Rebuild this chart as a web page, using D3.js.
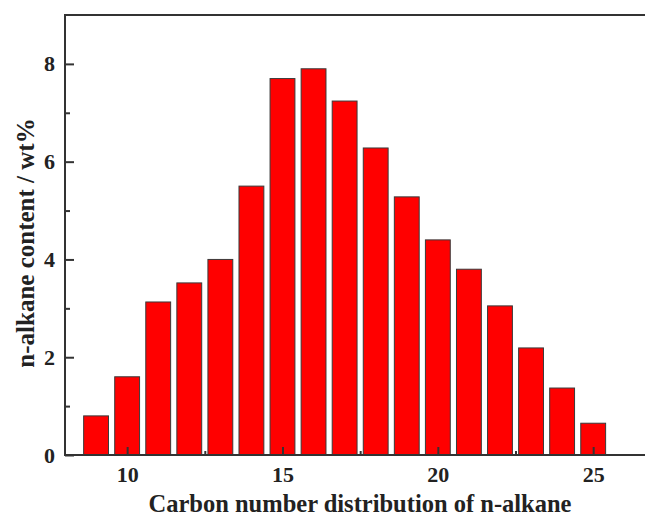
<!DOCTYPE html>
<html>
<head>
<meta charset="utf-8">
<script src="https://cdn.jsdelivr.net/npm/d3@7"></script>
<style>
  html, body { margin: 0; padding: 0; background: #fff; }
  svg { display: block; font-family: "Liberation Serif", "Times New Roman", serif; font-weight: bold; }
</style>
</head>
<body>
<svg id="chart" width="645" height="516"></svg>
<script>
// Carbon number distribution of n-alkanes (wt%)
const carbonNumbers = [9, 10, 11, 12, 13, 14, 15, 16, 17, 18, 19, 20, 21, 22, 23, 24, 25];
const contents = [0.8, 1.6, 3.13, 3.52, 4.0, 5.5, 7.7, 7.9, 7.24, 6.28, 5.28, 4.4, 3.8, 3.05, 2.19, 1.37, 0.65];
const xTicks = [10, 15, 20, 25];
const xMinorTicks = [12.5, 17.5, 22.5];
const yTicks = [0, 2, 4, 6, 8];
const yMinorTicks = [1, 3, 5, 7];
const xTitle = "Carbon number distribution of n-alkane";
const yTitle = "n-alkane content / wt%";

const svg = d3.select("#chart");
const plotLeft = 65, plotTop = 15, plotBottom = 455;
const x = d3.scaleLinear().domain([8, 27]).range([plotLeft, plotLeft + 19 * 31.07]);
const y = d3.scaleLinear().domain([0, 9]).range([plotBottom, plotTop]);
const axisColor = "#333";
const textColor = "#222";
const barWidth = x(8.8) - x(8);

// bars
svg.append("g").selectAll("rect")
  .data(carbonNumbers)
  .join("rect")
  .attr("x", (d) => x(d) - barWidth / 2)
  .attr("width", barWidth)
  .attr("y", (d, i) => y(contents[i]))
  .attr("height", (d, i) => y(0) - y(contents[i]))
  .attr("fill", "#ff0000")
  .attr("stroke", "#3a3a3a")
  .attr("stroke-width", 1);

// frame lines (left, top, bottom)
const frame = svg.append("g").attr("stroke", axisColor).attr("stroke-width", 2).attr("fill", "none");
frame.append("path").attr("d", `M${x(27)},${y(9)}H${x(8)}V${y(0)}H${x(27)}`);

function styleTicks(g) {
  g.select(".domain").remove();
  g.selectAll(".tick line").attr("stroke", axisColor).attr("stroke-width", 2);
  g.selectAll(".tick text").attr("font-size", 22).attr("fill", textColor)
    .attr("font-family", "Liberation Serif").attr("font-weight", "bold");
}

// y axis, ticks pointing inward
svg.append("g").attr("transform", `translate(${plotLeft},0)`)
  .call(d3.axisLeft(y).tickValues(yTicks).tickSizeInner(-9).tickSizeOuter(0).tickPadding(10))
  .call(styleTicks);
svg.append("g").attr("transform", `translate(${plotLeft},0)`)
  .call(d3.axisLeft(y).tickValues(yMinorTicks).tickSizeInner(-5).tickSizeOuter(0).tickFormat(""))
  .call(styleTicks);

// x axis, ticks pointing inward
svg.append("g").attr("transform", `translate(0,${plotBottom})`)
  .call(d3.axisBottom(x).tickValues(xTicks).tickSizeInner(-8).tickSizeOuter(0).tickPadding(11))
  .call(styleTicks);
svg.append("g").attr("transform", `translate(0,${plotBottom})`)
  .call(d3.axisBottom(x).tickValues(xMinorTicks).tickSizeInner(-4).tickSizeOuter(0).tickFormat(""))
  .call(styleTicks);

// axis titles
svg.append("text")
  .attr("x", 360).attr("y", 512)
  .attr("text-anchor", "middle")
  .attr("font-size", 24.5).attr("fill", textColor)
  .text(xTitle);
svg.append("text")
  .attr("transform", `translate(34,243) rotate(-90)`)
  .attr("text-anchor", "middle")
  .attr("font-size", 25).attr("fill", textColor)
  .text(yTitle);
</script>
</body>
</html>
